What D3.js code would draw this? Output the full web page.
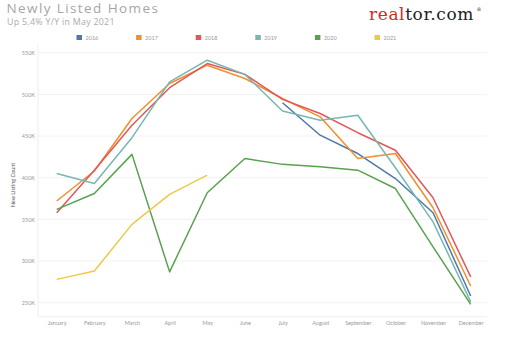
<!DOCTYPE html>
<html><head><meta charset="utf-8">
<script src="https://cdn.jsdelivr.net/npm/d3@7"></script>
<style>
html,body{margin:0;padding:0;background:#fff;}
svg{display:block;}
</style></head>
<body>
<svg id="c" width="513" height="337"></svg>
<script>
const months = ["January","February","March","April","May","June","July","August","September","October","November","December"];
const years = ["2016","2017","2018","2019","2020","2021"];
const colors = ["#4e79a7","#f28e2b","#e15759","#76b7b2","#59a14f","#edc948"];
const yTicks = [250000,300000,350000,400000,450000,500000,550000];
const s2016 = [null,null,null,null,null,null,490000,451000,429000,399000,358000,258000];
const s2017 = [372000,408000,471000,513000,535000,519000,495000,473000,423000,429000,364000,270000];
const s2018 = [358000,409000,463000,508000,537000,524000,494000,477000,454000,433000,376000,281000];
const s2019 = [405000,393000,448000,515000,541000,524000,480000,469000,475000,412000,347000,251000];
const s2020 = [362000,381000,428000,287000,382000,423000,416000,413000,409000,387000,317000,248000];
const s2021 = [278000,288000,344000,380000,403000,null,null,null,null,null,null,null];
const series = [s2016,s2017,s2018,s2019,s2020,s2021];

const svg = d3.select("#c");
const x = d3.scalePoint().domain(months).range([56.7,470.7]);
const y = d3.scaleLinear().domain([250000,550000]).range([302.7,52.7]);
const plotL = 38, plotR = 487, plotB = y(233200);

// gridlines
svg.append("g").selectAll("line").data(yTicks).join("line")
  .attr("x1",plotL).attr("x2",plotR)
  .attr("y1",d=>y(d)).attr("y2",d=>y(d))
  .attr("stroke","#f2f2f2").attr("stroke-width",1);
// frame
svg.append("line").attr("x1",plotL).attr("x2",plotL).attr("y1",45).attr("y2",plotB).attr("stroke","#eeeeee");
svg.append("line").attr("x1",plotL).attr("x2",plotR).attr("y1",plotB).attr("y2",plotB).attr("stroke","#eeeeee");

// y axis
const yAxis = d3.axisLeft(y).tickValues(yTicks).tickSize(0).tickPadding(3)
  .tickFormat(d=>(d/1000)+"K");
const gy = svg.append("g").attr("transform",`translate(${plotL},0)`).call(yAxis);
gy.select(".domain").remove();
gy.selectAll("text").attr("fill","#9a9a9a").style("font-family","Lato, 'Open Sans', sans-serif").style("font-size","5.5px");

// x axis
const xAxis = d3.axisBottom(x).tickSize(0).tickPadding(4);
const gx = svg.append("g").attr("transform",`translate(0,${plotB})`).call(xAxis);
gx.select(".domain").remove();
gx.selectAll("text").attr("fill","#9a9a9a").style("font-family","Lato, 'Open Sans', sans-serif").style("font-size","5.5px");

// y label
svg.append("text").attr("transform","translate(15,185) rotate(-90)")
  .attr("text-anchor","middle").attr("fill","#555")
  .style("font-family","Lato, 'Open Sans', sans-serif").style("font-size","5.5px")
  .text("New Listing Count");

// lines
const line = d3.line().defined(d=>d.v!==null).x(d=>x(d.m)).y(d=>y(d.v));
series.forEach((s,i)=>{
  svg.append("path")
    .datum(s.map((v,j)=>({m:months[j],v:v})))
    .attr("d",line).attr("fill","none")
    .attr("stroke",colors[i]).attr("stroke-width",1.5)
    .attr("stroke-linejoin","round");
});

// legend
const leg = svg.append("g").selectAll("g").data(years).join("g")
  .attr("transform",(d,i)=>`translate(${76.5+i*59.6},35)`);
leg.append("rect").attr("width",5.5).attr("height",5).attr("fill",(d,i)=>colors[i]);
leg.append("text").attr("x",9).attr("y",4.6).text(d=>d)
  .attr("fill","#9a9a9a").style("font-family","Lato, 'Open Sans', sans-serif").style("font-size","5.5px");

// titles
svg.append("text").attr("x",6.5).attr("y",13).text("Newly Listed Homes")
  .attr("fill","#a6a6a6").style("font-family","'Open Sans', sans-serif")
  .style("font-size","13.5px").style("letter-spacing","1.4px");
svg.append("text").attr("x",7).attr("y",25).text("Up 5.4% Y/Y in May 2021")
  .attr("fill","#ababab").style("font-family","'Open Sans', sans-serif")
  .style("font-size","8.8px").style("letter-spacing","0.3px");

// logo
const logo = svg.append("text").attr("x",369).attr("y",19.5)
  .style("font-family","'DejaVu Serif', 'Liberation Serif', serif").style("font-size","17px")
  .style("letter-spacing","0.6px");
logo.append("tspan").attr("fill","#d52b1e").text("real");
logo.append("tspan").attr("fill","#222").text("tor.com");
svg.append("text").attr("x",476.5).attr("y",11).attr("fill","#222")
  .style("font-family","'DejaVu Serif', serif").style("font-size","5px").text("®");
</script>
</body></html>
